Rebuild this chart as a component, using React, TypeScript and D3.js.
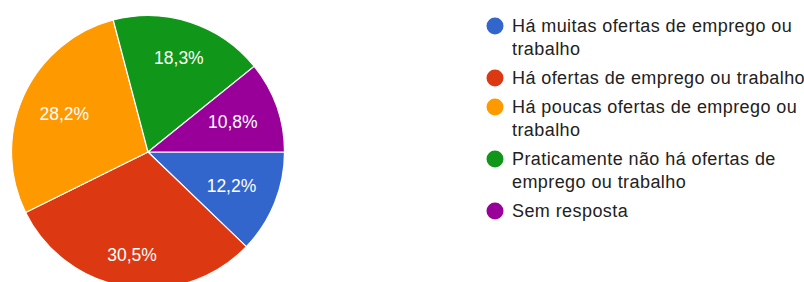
import React from "react";
import * as d3 from "d3";

const categories = [
  "Há muitas ofertas de emprego ou trabalho",
  "Há ofertas de emprego ou trabalho",
  "Há poucas ofertas de emprego ou trabalho",
  "Praticamente não há ofertas de emprego ou trabalho",
  "Sem resposta",
];
const legendLines = [
  ["Há muitas ofertas de emprego ou", "trabalho"],
  ["Há ofertas de emprego ou trabalho"],
  ["Há poucas ofertas de emprego ou", "trabalho"],
  ["Praticamente não há ofertas de", "emprego ou trabalho"],
  ["Sem resposta"],
];
const values = [12.2, 30.5, 28.2, 18.3, 10.8];
const valueLabels = ["12,2%", "30,5%", "28,2%", "18,3%", "10,8%"];
const colors = ["#3366cc", "#dc3912", "#ff9900", "#109618", "#990099"];

const W = 804;
const H = 282;
const cx = 148;
const cy = 152;
const R = 136.5;
// label distance from centre, per slice (layout)
const labelRadii = [90, 104, 92, 99, 90];
const FONT = "Arial, 'Liberation Sans', sans-serif";

export default function App() {
  const pie = d3
    .pie<number>()
    .sort(null)
    .value((d) => d)
    .startAngle(Math.PI / 2)
    .endAngle(Math.PI / 2 + 2 * Math.PI);
  const arcs = pie(values);
  const arc = d3.arc<d3.PieArcDatum<number>>().innerRadius(0).outerRadius(R);

  const legendX = 495;
  const textX = 512;
  const lineH = 23;
  const itemGap = 6;
  let y = 26;
  const legendItems = legendLines.map((lines, i) => {
    const item = { y, lines, i };
    y += lines.length * lineH + itemGap;
    return item;
  });

  return (
    <div style={{ position: "absolute", left: 0, top: 0 }}>
      <svg width={W} height={H} style={{ display: "block", background: "#fff" }}>
        <g transform={`translate(${cx},${cy})`}>
          {arcs.map((a, i) => (
            <path
              key={categories[i]}
              d={arc(a) || ""}
              fill={colors[i]}
              stroke="#fff"
              strokeWidth={1.2}
            />
          ))}
          {arcs.map((a, i) => {
            const lr = labelRadii[i];
            const [x, yy] = d3
              .arc<d3.PieArcDatum<number>>()
              .innerRadius(lr)
              .outerRadius(lr)
              .centroid(a);
            return (
              <text
                key={"l" + i}
                x={x}
                y={yy}
                textAnchor="middle"
                dominantBaseline="central"
                fill="#fff"
                fontSize={17.5}
                fontFamily={FONT}
              >
                {valueLabels[i]}
              </text>
            );
          })}
        </g>
        {legendItems.map((it) => (
          <g key={"leg" + it.i}>
            <circle cx={legendX} cy={it.y} r={8.5} fill={colors[it.i]} />
            {it.lines.map((ln, j) => (
              <text
                key={j}
                x={textX}
                y={it.y + j * lineH}
                dominantBaseline="central"
                fill="#222"
                fontSize={18}
                letterSpacing={0.42}
                fontFamily={FONT}
              >
                {ln}
              </text>
            ))}
          </g>
        ))}
      </svg>
    </div>
  );
}
